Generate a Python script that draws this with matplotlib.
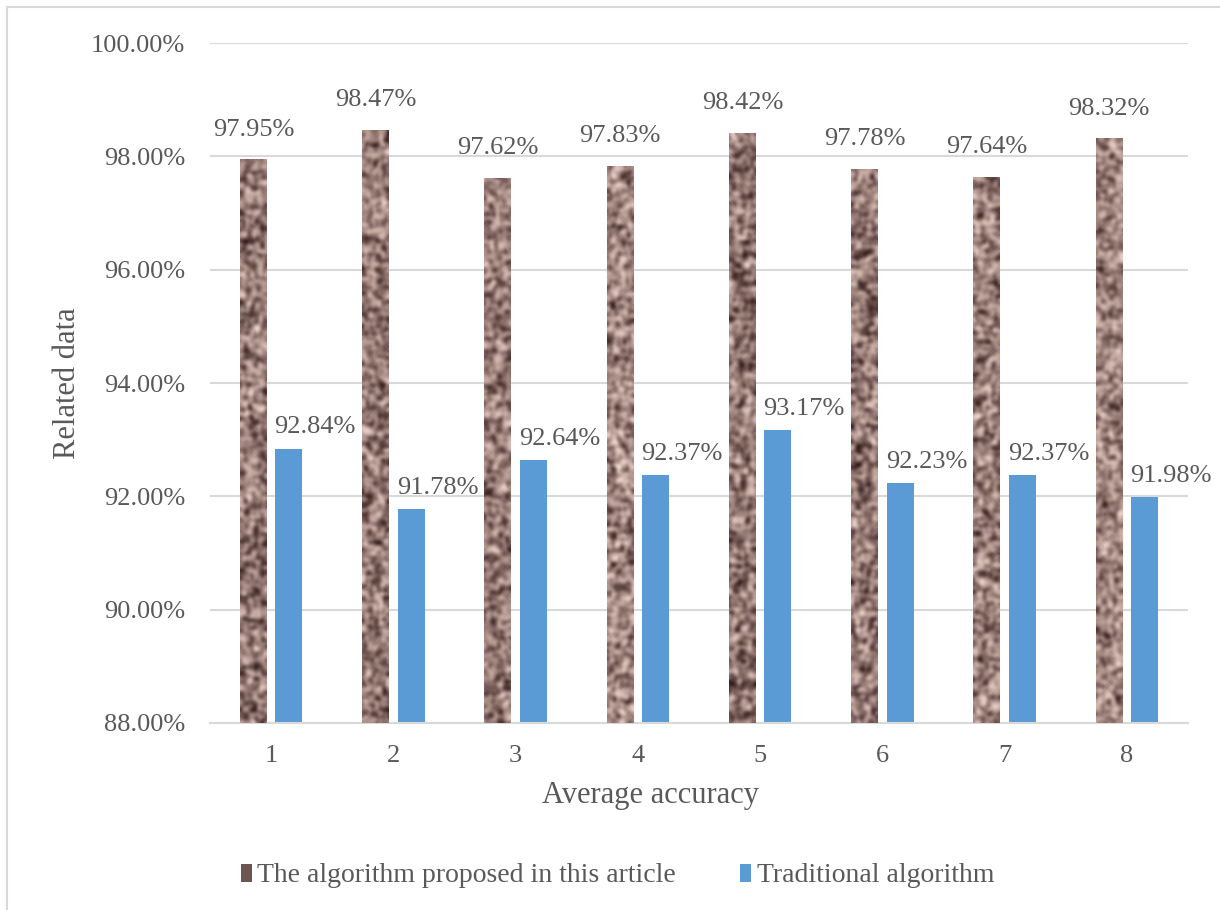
import numpy as np
import matplotlib
matplotlib.use("Agg")
import matplotlib.pyplot as plt
from matplotlib.colors import LinearSegmentedColormap
from matplotlib.patches import Patch, Rectangle

plt.rcParams['font.family'] = ['Liberation Serif', 'DejaVu Serif']

categories = ['1', '2', '3', '4', '5', '6', '7', '8']
proposed = [97.95, 98.47, 97.62, 97.83, 98.42, 97.78, 97.64, 98.32]
traditional = [92.84, 91.78, 92.64, 92.37, 93.17, 92.23, 92.37, 91.98]
series_names = ['The algorithm proposed in this article', 'Traditional algorithm']

text_gray = '#595959'
grid_gray = '#d9d9d9'
blue = '#5b9bd5'
brown = '#9a7f79'

# brownish "woven" fill for the first series
rng = np.random.default_rng(7)
tex_cmap = LinearSegmentedColormap.from_list(
    'woven', ['#2a1715', '#5e4440', '#9c817b', '#cfb3ab', '#f1ddd6'])


def woven(h, w):
    # smoothed noise, drawn with bicubic upsampling
    n = rng.random((h + 6, w + 6))
    for _ in range(2):
        n = (n + np.roll(n, 1, 0) + np.roll(n, -1, 0)
             + np.roll(n, 1, 1) + np.roll(n, -1, 1)) / 5
    n = n[3:-3, 3:-3]
    n = (n - n.min()) / (n.max() - n.min())
    return n


fig = plt.figure(figsize=(12.2, 9.1), dpi=100)
ax = fig.add_axes([0.1721, 0.2055, 0.8017, 0.7472])

x = np.arange(len(categories))
w = 0.22
off = 0.145
b1 = ax.bar(x - off, proposed, w, color=brown, zorder=2)
b2 = ax.bar(x + off, traditional, w, color=blue, zorder=2)

for rect, v in zip(b1, proposed):
    x0 = rect.get_x()
    hpx = int((v - 88) / 12 * 680 / 2)
    img = ax.imshow(woven(hpx, 14), cmap=tex_cmap, extent=(x0, x0 + w, 88, v),
                    aspect='auto', interpolation='bicubic', zorder=3)
    img.set_clip_path(rect)

ax.set_ylim(88, 100)
ax.set_xlim(-0.5, len(categories) - 0.5)

for rect, v in zip(b1, proposed):
    ax.annotate(f'{v:.2f}%', (rect.get_x() + w / 2, v), xytext=(0, 17),
                textcoords='offset points', ha='center', va='baseline',
                fontsize=19, color=text_gray)
for rect, v in zip(b2, traditional):
    ax.annotate(f'{v:.2f}%', (rect.get_x() + w / 2, v), xytext=(19, 11),
                textcoords='offset points', ha='center', va='baseline',
                fontsize=19, color=text_gray)

yt = np.arange(88, 100.1, 2)
ax.set_yticks(yt)
ax.set_yticklabels([f'{t:.2f}%' for t in yt])
ax.set_xticks(x)
ax.set_xticklabels(categories)
ax.tick_params(axis='both', length=0, labelsize=19, colors=text_gray)
ax.tick_params(axis='y', pad=18)
ax.tick_params(axis='x', pad=16)

ax.grid(axis='y', color=grid_gray, lw=1.5, zorder=0)
ax.set_axisbelow(True)
for s in ['top', 'right', 'left']:
    ax.spines[s].set_visible(False)
ax.spines['bottom'].set_color(grid_gray)
ax.spines['bottom'].set_linewidth(1.5)

ax.set_xlabel('Average accuracy', fontsize=22, color=text_gray)
ax.xaxis.set_label_coords((651 - 210) / 978, -0.085)
ax.set_ylabel('Related data', fontsize=22, color=text_gray, labelpad=6)

handles = [Patch(facecolor='#6e5550', edgecolor='none'),
           Patch(facecolor=blue, edgecolor='none')]
fig.legend(handles, series_names, loc='center', ncol=2,
           bbox_to_anchor=(0.506, 1 - 876 / 910), frameon=False,
           fontsize=20, labelcolor=text_gray, handlelength=0.4,
           handleheight=0.6, handletextpad=0.2, columnspacing=2.3)

# outer frame: only its left and top edges fall inside the canvas
fig.patches.append(Rectangle((7 / 1220, -0.05), 1.1, 1.05 - 7 / 910,
                             transform=fig.transFigure, fill=False,
                             edgecolor=grid_gray, lw=1.5))

fig.savefig('out.png', dpi=100)
